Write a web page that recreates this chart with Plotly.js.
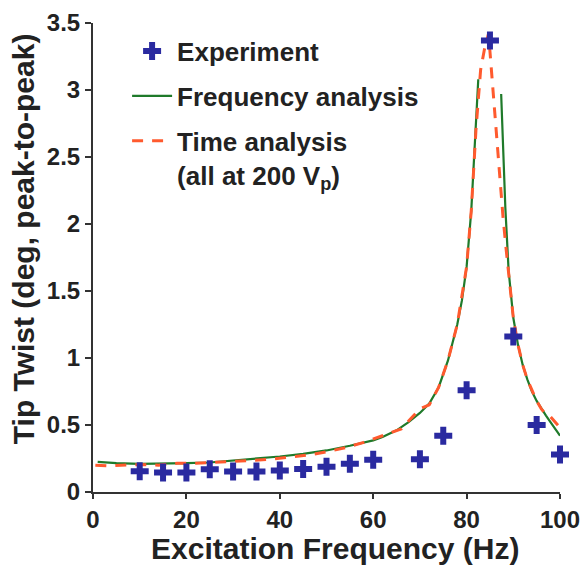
<!DOCTYPE html>
<html>
<head>
<meta charset="utf-8">
<script src="https://cdn.plot.ly/plotly-3.0.1.min.js"></script>
<style>html,body{margin:0;padding:0;background:#fff;}#chart{width:585px;height:568px;}</style>
</head>
<body>
<div id="chart"></div>
<script>
// Experiment (measured) points
var expFreq = [10, 15, 20, 25, 30, 35, 40, 45, 50, 55, 60, 70, 75, 80, 85, 90, 95, 100];
var expTwist = [0.155, 0.145, 0.145, 0.17, 0.153, 0.153, 0.16, 0.172, 0.188, 0.21, 0.24, 0.245, 0.42, 0.76, 3.37, 1.16, 0.50, 0.28];

// Frequency analysis curve (gap near resonance)
var freqX = [1, 5, 10, 15, 20, 25, 30, 35, 40, 45, 50, 55, 60, 62, 65, 67.5, 70, 72, 74, 76, 78, 79, 80, 81, 81.8, 82.5, null,
             87.4, 88.3, 89, 90, 91, 92, 93, 94, 95, 96, 97, 98, 99, 100];
var freqY = [0.225, 0.215, 0.21, 0.21, 0.215, 0.22, 0.235, 0.248, 0.265, 0.285, 0.31, 0.345, 0.385, 0.41, 0.46, 0.52, 0.59, 0.66, 0.78, 0.98, 1.25, 1.43, 1.68, 2.1, 2.6, 3.08, null,
             2.97, 2.12, 1.65, 1.30, 1.10, 0.95, 0.84, 0.75, 0.68, 0.62, 0.57, 0.52, 0.47, 0.42];

// Time analysis curve
var timeX = [0.5, 3, 6, 10, 14, 18, 22, 26, 30, 34, 38, 42, 46, 50, 54, 58, 62, 66, 70, 72, 74, 76, 78, 80, 81, 82, 83, 83.8, 84.7,
             85.4, 86.4, 87.2, 87.8, 88.5, 89.2, 90, 91, 92, 93, 94, 95, 96, 97, 98, 99, 100];
var timeY = [0.20, 0.195, 0.20, 0.205, 0.20, 0.215, 0.215, 0.22, 0.23, 0.235, 0.245, 0.26, 0.275, 0.30, 0.33, 0.37, 0.42, 0.47, 0.62, 0.65, 0.78, 0.98, 1.25, 1.68, 2.1, 2.7, 3.15, 3.3, 3.42,
             3.1, 2.62, 2.30, 2.05, 1.8, 1.55, 1.30, 1.10, 0.95, 0.84, 0.76, 0.68, 0.62, 0.58, 0.56, 0.52, 0.48];

var xTicks = [0, 20, 40, 60, 80, 100];
var yTicks = [0, 0.5, 1, 1.5, 2, 2.5, 3, 3.5];
var yTickText = ['0', '0.5', '1', '1.5', '2', '2.5', '3', '3.5'];

var FONT = 'Liberation Sans, Arial, Helvetica, sans-serif';
var INK = '#222222';

var traces = [
  {
    x: freqX, y: freqY, type: 'scatter', mode: 'lines', name: 'Frequency analysis',
    legendgroup: 'b', legendrank: 2, connectgaps: false,
    line: {color: '#1f7a2a', width: 2.2}
  },
  {
    x: timeX, y: timeY, type: 'scatter', mode: 'lines', name: 'Time analysis<br>(all at 200 V<sub>p</sub>)',
    legendgroup: 'c', legendrank: 3,
    line: {color: '#ff5a2e', width: 3, dash: '11px,9px'}
  },
  {
    x: expFreq, y: expTwist, type: 'scatter', mode: 'markers', name: 'Experiment',
    legendgroup: 'a', legendrank: 1,
    marker: {symbol: 'cross', size: 15, color: '#2a2aa0', line: {width: 0}},
    cliponaxis: false
  }
];

var layout = {
  width: 585, height: 568,
  margin: {l: 93, r: 25, t: 23, b: 76},
  paper_bgcolor: '#ffffff', plot_bgcolor: '#ffffff',
  font: {family: FONT, color: INK},
  showlegend: true,
  legend: {
    x: 0.073, y: 0.99, xanchor: 'left', yanchor: 'top',
    bgcolor: 'rgba(0,0,0,0)', borderwidth: 0,
    font: {family: FONT, size: 26, color: INK, weight: 'bold'},
    traceorder: 'grouped', tracegroupgap: 8, valign: 'top',
    itemwidth: 40
  },
  xaxis: {
    range: [0, 100], tickvals: xTicks, ticktext: xTicks.map(String),
    showgrid: false, zeroline: false, showline: true, linecolor: '#333', linewidth: 2,
    ticks: 'outside', ticklen: 5, tickwidth: 2, tickcolor: '#333',
    tickfont: {family: FONT, size: 24, color: INK, weight: 'bold'},
    fixedrange: true
  },
  yaxis: {
    range: [0, 3.5], tickvals: yTicks, ticktext: yTickText,
    showgrid: false, zeroline: false, showline: true, linecolor: '#333', linewidth: 2,
    ticks: 'outside', ticklen: 6, tickwidth: 2, tickcolor: '#333',
    tickfont: {family: FONT, size: 24, color: INK, weight: 'bold'},
    fixedrange: true
  },
  annotations: [{
    text: 'Tip Twist (deg, peak-to-peak)', textangle: -90,
    xref: 'paper', yref: 'paper', x: -0.15, y: 0.541,
    xanchor: 'center', yanchor: 'middle', showarrow: false,
    font: {family: FONT, size: 30, color: INK, weight: 'bold'}
  }, {
    text: 'Excitation Frequency (Hz)',
    xref: 'paper', yref: 'paper', x: 0.5175, y: -0.121,
    xanchor: 'center', yanchor: 'middle', showarrow: false,
    font: {family: FONT, size: 30, color: INK, weight: 'bold'}
  }]
};

Plotly.newPlot('chart', traces, layout, {staticPlot: true, displayModeBar: false});
</script>
</body>
</html>
